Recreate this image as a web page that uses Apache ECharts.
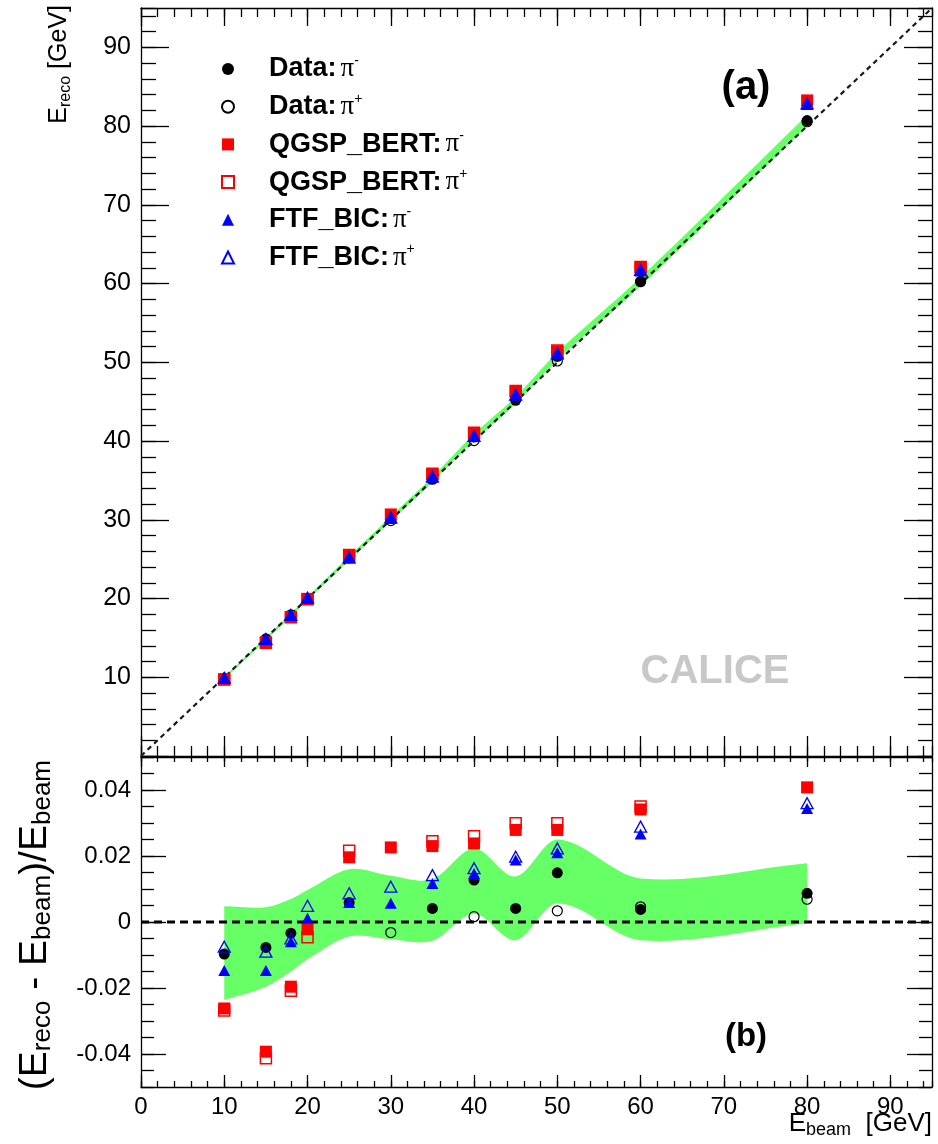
<!DOCTYPE html>
<html><head><meta charset="utf-8">
<script src="https://cdn.jsdelivr.net/npm/echarts@6/dist/echarts.min.js"></script>
<style>html,body{margin:0;padding:0;background:#fff}#c{width:938px;height:1144px}</style>
</head><body><div id="c"></div>
<script>
// ---------------- DATA ----------------
const energies = [10, 15, 18, 20, 25, 30, 35, 40, 45, 50, 60, 80];

// Panel (a): reconstructed energy [GeV]
const recoDataPiMinus  = [9.90, 14.88, 17.94, null, 25.15, null, 35.14, 40.51, 45.18, 50.75, 60.23, 80.70];
const recoDataPiPlus   = [null, null, null, null, null, 29.90, null, 40.06, null, 50.17, 60.28, 80.55];
const recoQgspPiMinus  = [9.74, 14.41, 17.65, 19.96, 25.49, 30.68, 35.81, 40.95, 46.26, 51.40, 62.05, 83.26];
const recoQgspPiPlus   = [9.73, 14.38, 17.63, 19.91, 25.54, null, 35.86, 41.04, 46.35, 51.50, 62.10, null];
const recoFtfPiMinus   = [9.85, 14.78, 17.89, 20.02, 25.15, 30.17, 35.41, 40.59, 45.85, 51.05, 61.60, 82.75];
const recoFtfPiPlus    = [9.93, 14.87, 17.91, 20.10, 25.22, 30.32, 35.50, 40.65, 45.89, 51.12, 61.73, 82.88];
const recoBandLow      = [9.76, 14.71, 17.73, 19.77, 24.89, 29.84, 34.80, 40.10, 44.75, 50.29, 59.67, 79.97];
const recoBandHigh     = [10.05, 15.07, 18.13, 20.19, 25.40, 30.42, 35.46, 40.89, 45.62, 51.25, 60.79, 81.42];

// Panel (b): (E_reco - E_beam)/E_beam
const relDataPiMinus   = [-0.0097, -0.0077, -0.0034, null, 0.0059, null, 0.0041, 0.0127, 0.0041, 0.0149, 0.0038, 0.0087];
const relDataPiPlus    = [null, null, null, null, null, -0.0032, null, 0.0016, null, 0.0034, 0.0046, 0.0069];
const relQgspPiMinus   = [-0.0262, -0.0393, -0.0196, -0.0022, 0.0196, 0.0226, 0.0230, 0.0238, 0.0279, 0.0279, 0.0341, 0.0408];
const relQgspPiPlus    = [-0.0268, -0.0413, -0.0208, -0.0046, 0.0216, null, 0.0245, 0.0260, 0.0299, 0.0299, 0.0350, null];
const relFtfPiMinus    = [-0.0147, -0.0147, -0.0060, 0.0011, 0.0059, 0.0057, 0.0117, 0.0147, 0.0188, 0.0210, 0.0267, 0.0344];
const relFtfPiPlus     = [-0.0075, -0.0090, -0.0050, 0.0049, 0.0087, 0.0107, 0.0142, 0.0163, 0.0198, 0.0223, 0.0289, 0.0360];
const relBandLow       = [-0.0236, -0.0196, -0.0150, -0.0113, -0.0044, -0.0052, -0.0057, 0.0025, -0.0055, 0.0057, -0.0055, -0.0004];
const relBandHigh      = [0.0048, 0.0045, 0.0070, 0.0097, 0.0160, 0.0140, 0.0130, 0.0223, 0.0138, 0.0250, 0.0132, 0.0178];

// Reference lines
const diagonalEnds = [0, 95];     // E_reco = E_beam
const zeroLineX = [0, 95];        // ratio = 0

// Axes / ticks
const xRange = [0, 95];
const xTickValues = [0, 10, 20, 30, 40, 50, 60, 70, 80, 90];
const xTickLabels = ['0', '10', '20', '30', '40', '50', '60', '70', '80', '90'];
const recoRange = [0, 95];
const recoTickValues = [0, 10, 20, 30, 40, 50, 60, 70, 80, 90];
const recoLabelValues = [10, 20, 30, 40, 50, 60, 70, 80, 90];
const recoTickLabels = ['10', '20', '30', '40', '50', '60', '70', '80', '90'];
const relRange = [-0.05, 0.05];
const relTickValues = [-0.04, -0.02, 0, 0.02, 0.04];
const relTickLabels = ['-0.04', '-0.02', '0', '0.02', '0.04'];

const seriesNames = ['Data: π-', 'Data: π+', 'QGSP_BERT: π-', 'QGSP_BERT: π+', 'FTF_BIC: π-', 'FTF_BIC: π+'];
const legendTexts = ['{b|Data:}{p|π}{s|-}', '{b|Data:}{p|π}{s|+}', '{b|QGSP_BERT:}{p|π}{s|-}', '{b|QGSP_BERT:}{p|π}{s|+}', '{b|FTF_BIC:}{p|π}{s|-}', '{b|FTF_BIC:}{p|π}{s|+}'];

// ---------------- STYLE ----------------
const FONT = '"Liberation Sans", Arial, Helvetica, sans-serif';
const markerStyles = [
  { symbol: 'circle', size: 11, color: '#000000', hollow: false, bw: 0 },
  { symbol: 'circle', size: 10, color: '#000000', hollow: true, bw: 1.2 },
  { symbol: 'rect', size: 12, color: '#ff0000', hollow: false, bw: 0 },
  { symbol: 'rect', size: 11, color: '#ff0000', hollow: true, bw: 1.5 },
  { symbol: 'triangle', size: [12, 11], color: '#0000ff', hollow: false, bw: 0 },
  { symbol: 'triangle', size: [12, 11], color: '#0000ff', hollow: true, bw: 1.3 }
];
const bandColor = '#66ff66';

function pairs(xs, ys) {
  const out = [];
  xs.forEach((x, i) => { if (ys[i] !== null && ys[i] !== undefined) out.push([x, ys[i]]); });
  return out;
}

const AX = { color: '#000', width: 1.3 };
function axisPair(gridIndex, pos, range, minorInterval, majorValues, majorLen, minorLen, label) {
  const base = { type: 'value', gridIndex: gridIndex, position: pos, min: range[0], max: range[1],
    splitLine: { show: false }, minorTick: { show: false }, silent: true };
  const minor = Object.assign({}, base, {
    interval: minorInterval,
    axisLine: { show: true, onZero: false, lineStyle: AX },
    axisTick: { show: true, inside: true, length: minorLen, lineStyle: AX },
    axisLabel: label || { show: false }
  });
  const major = Object.assign({}, base, {
    interval: minorInterval,
    axisLine: { show: false, onZero: false },
    axisTick: { show: true, inside: true, length: majorLen, customValues: majorValues, lineStyle: AX },
    axisLabel: { show: false }
  });
  return [minor, major];
}

const xAxes = [].concat(
  axisPair(0, 'bottom', xRange, 2, xTickValues, 20, 10, null),          // 0,1
  axisPair(0, 'top', xRange, 2, xTickValues, 18, 9, null),              // 2,3
  axisPair(1, 'bottom', xRange, 2, xTickValues, 12, 6, {               // 4,5
    show: true, customValues: xTickValues, margin: 8, fontSize: 24, color: '#000', fontFamily: FONT,
    formatter: v => xTickLabels[xTickValues.indexOf(Math.round(v))]
  }),
  axisPair(1, 'top', xRange, 2, xTickValues, 10, 5, null)               // 6,7
);
const yAxes = [].concat(
  axisPair(0, 'left', recoRange, 2, recoTickValues, 28, 15, {          // 0,1
    show: true, customValues: recoLabelValues, margin: 10, fontSize: 25, color: '#000', fontFamily: FONT,
    formatter: v => recoTickLabels[recoLabelValues.indexOf(Math.round(v))]
  }),
  axisPair(0, 'right', recoRange, 2, recoTickValues, 28, 14, null),     // 2,3
  axisPair(1, 'left', relRange, 0.005, relTickValues, 25, 13, {        // 4,5
    show: true, customValues: relTickValues, margin: 10, fontSize: 24, color: '#000', fontFamily: FONT,
    formatter: v => relTickLabels[relTickValues.findIndex(t => Math.abs(t - v) < 1e-9)]
  }),
  axisPair(1, 'right', relRange, 0.005, relTickValues, 25, 13, null)    // 6,7
);

// smooth (cubic Hermite) path through pixel points
function smoothSegs(pts) {
  const n = pts.length;
  const slope = i => {
    const a = pts[Math.max(0, i - 1)], b = pts[Math.min(n - 1, i + 1)];
    return (b[1] - a[1]) / (b[0] - a[0]);
  };
  let d = '';
  for (let i = 0; i < n - 1; i++) {
    const p = pts[i], q = pts[i + 1];
    const dx = q[0] - p[0];
    const m0 = slope(i), m1 = slope(i + 1);
    d += ' C' + (p[0] + dx / 3) + ' ' + (p[1] + m0 * dx / 3) + ' ' +
         (q[0] - dx / 3) + ' ' + (q[1] - m1 * dx / 3) + ' ' + q[0] + ' ' + q[1];
  }
  return d;
}

function bandSeries(xIdx, yIdx, low, high) {
  return {
    type: 'custom', xAxisIndex: xIdx, yAxisIndex: yIdx, z: 1, silent: true, clip: true,
    data: energies.map((e, i) => [e, low[i], high[i]]),
    encode: { x: 0, y: [1, 2] },
    renderItem: function (params, api) {
      if (params.dataIndexInside !== 0) return null;
      const up = energies.map((e, i) => api.coord([e, high[i]]));
      const lo = energies.map((e, i) => api.coord([e, low[i]])).reverse();
      const d = 'M' + up[0][0] + ' ' + up[0][1] + smoothSegs(up) +
                ' L' + lo[0][0] + ' ' + lo[0][1] + smoothSegs(lo) + ' Z';
      return { type: 'path', shape: { pathData: d }, style: { fill: bandColor, stroke: null } };
    }
  };
}

function markerSeries(xIdx, yIdx, arrays) {
  return arrays.map((arr, k) => {
    const m = markerStyles[k];
    return {
      type: 'scatter', name: seriesNames[k], xAxisIndex: xIdx, yAxisIndex: yIdx,
      symbol: m.symbol, symbolSize: m.size, data: pairs(energies, arr), z: 5 + k, silent: true,
      itemStyle: m.hollow ? { color: 'rgba(255,255,255,0)', borderColor: m.color, borderWidth: m.bw, opacity: 1 }
                          : { color: m.color, borderWidth: 0, opacity: 1 }
    };
  });
}

const series = [].concat(
  [bandSeries(0, 0, recoBandLow, recoBandHigh)],
  [{ type: 'line', xAxisIndex: 0, yAxisIndex: 0, symbol: 'none', silent: true, z: 3,
     data: [[diagonalEnds[0], diagonalEnds[0]], [diagonalEnds[1], diagonalEnds[1]]],
     lineStyle: { color: '#1a1a1a', width: 2.2, type: [5, 4] } }],
  markerSeries(0, 0, [recoDataPiMinus, recoDataPiPlus, recoQgspPiMinus, recoQgspPiPlus, recoFtfPiMinus, recoFtfPiPlus]),
  [bandSeries(4, 4, relBandLow, relBandHigh)],
  [{ type: 'line', xAxisIndex: 4, yAxisIndex: 4, symbol: 'none', silent: true, z: 3,
     data: [[zeroLineX[0], 0], [zeroLineX[1], 0]],
     lineStyle: { color: '#000', width: 2.8, type: [8, 5] } }],
  markerSeries(4, 4, [relDataPiMinus, relDataPiPlus, relQgspPiMinus, relQgspPiPlus, relFtfPiMinus, relFtfPiPlus])
);

const legendRich = {
  b: { fontFamily: FONT, fontWeight: 'bold', fontSize: 27, lineHeight: 30, color: '#000', padding: [0, 0, 0, 30] },
  p: { fontFamily: '"Liberation Serif", "DejaVu Serif", serif', fontSize: 27, lineHeight: 30, color: '#000', padding: [0, 0, 0, 4] },
  s: { fontFamily: FONT, fontSize: 14, lineHeight: 14, verticalAlign: 'top', color: '#000' }
};

const option = {
  animation: false,
  backgroundColor: '#fff',
  grid: [
    { left: 141, top: 8, width: 791, height: 748, containLabel: false },
    { left: 141, top: 757, width: 791, height: 330, containLabel: false }
  ],
  xAxis: xAxes,
  yAxis: yAxes,
  legend: {
    data: seriesNames, orient: 'vertical', left: 216, top: 49, itemWidth: 12, itemHeight: 12, itemGap: 9.2,
    selectedMode: false, formatter: name => legendTexts[seriesNames.indexOf(name)],
    textStyle: { rich: legendRich }
  },
  series: series,
  graphic: [
    { type: 'text', x: 59, y: 5, rotation: Math.PI / 2, silent: true,
      style: { text: '{m|E}{s|reco}{m| [GeV]}', align: 'right', verticalAlign: 'middle', fill: '#000',
        rich: { m: { fontFamily: FONT, fontSize: 25, lineHeight: 30 },
                s: { fontFamily: FONT, fontSize: 16, lineHeight: 16, verticalAlign: 'bottom' } } } },
    { type: 'text', x: 35, y: 760, rotation: Math.PI / 2, silent: true,
      style: { text: '{m|(E}{s|reco}{m| - E}{s|beam}{m|)/E}{s|beam}', align: 'right', verticalAlign: 'middle', fill: '#000',
        rich: { m: { fontFamily: FONT, fontSize: 39, lineHeight: 42 },
                s: { fontFamily: FONT, fontSize: 26, lineHeight: 26, verticalAlign: 'bottom' } } } },
    { type: 'text', x: 932, y: 1124, silent: true,
      style: { text: '{m|E}{s|beam}{m|  [GeV]}', align: 'right', verticalAlign: 'middle', fill: '#000',
        rich: { m: { fontFamily: FONT, fontSize: 26, lineHeight: 30 },
                s: { fontFamily: FONT, fontSize: 18, lineHeight: 18, verticalAlign: 'bottom' } } } },
    { type: 'text', x: 746, y: 88, silent: true,
      style: { text: '(a)', align: 'center', verticalAlign: 'middle', fill: '#000', font: 'bold 40px ' + FONT } },
    { type: 'text', x: 746, y: 1037, silent: true,
      style: { text: '(b)', align: 'center', verticalAlign: 'middle', fill: '#000', font: 'bold 33px ' + FONT } },
    { type: 'text', x: 715, y: 672, silent: true,
      style: { text: 'CALICE', align: 'center', verticalAlign: 'middle', fill: '#c8c8c8', font: 'bold 40px ' + FONT } }
  ]
};

const chart = echarts.init(document.getElementById('c'), null, { renderer: 'canvas' });
chart.setOption(option);
</script>
</body></html>
